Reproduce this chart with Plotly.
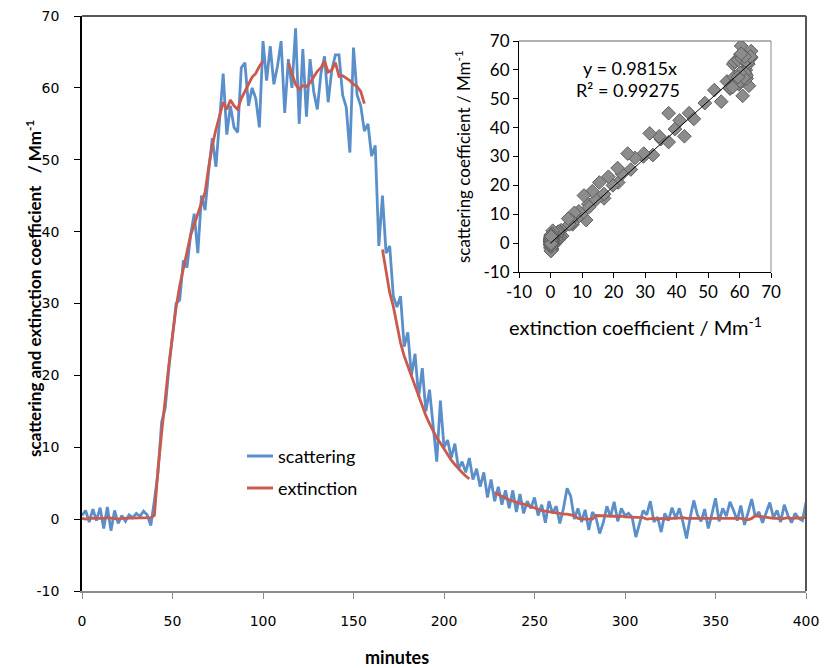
import plotly.graph_objects as go

# ---------------- data ----------------
minutes = list(range(0, 401, 2))

scattering = [
    # 0-38
    0.5, 1.2, -0.4, 1.4, -0.2, 1.6, -1.3, 1.7, -1.6, 1.2,
    -0.6, 0.5, -0.3, 0.6, 0.2, 0.8, 0.4, 1.1, 0.6, -0.9,
    # 40-78
    2.6, 6.5, 13.5, 15.5, 21, 25.5, 30, 30.5, 36, 35,
    39.5, 42.5, 37, 45, 43, 48.5, 53, 49, 56, 62,
    # 80-118
    53.5, 57.5, 54.5, 53.8, 62.8, 63.5, 57.5, 60, 58.5, 54.5,
    66.5, 61, 65.8, 60.5, 63, 66.5, 56.5, 64, 60, 68.3,
    # 120-158
    55, 65.4, 56, 64, 59.5, 57, 62, 64.4, 58, 62.5,
    64.6, 64.6, 59, 57.3, 51, 65.6, 59, 57.5, 54, 55,
    # 160-198
    50.5, 52, 38, 45, 37, 38, 31, 29.5, 31, 24,
    26, 20, 23, 17, 21, 15, 18, 12.5, 8, 16.5,
    # 200-238
    10, 11, 8.5, 10.5, 7, 8, 6.5, 8.5, 5.5, 7,
    4.5, 6.5, 3, 5.5, 2.5, 4.5, 2, 4, 1.5, 4,
    # 240-278
    1, 3.5, 0.8, 2.5, 1.5, 3, 0.5, 2, -0.5, 2.5,
    0.8, 1.8, -0.6, 1.5, 4.3, 3.2, 0, 1.5, -0.4, 1.3,
    # 280-318
    -1.5, 1.0, 0.2, -2.0, -0.5, 1.8, 0.3, 2.4, -0.3, 1.5,
    0.5, 0.8, 0.2, -2.5, -0.6, 1.2, 0.6, 2.5, -0.4, 0.3,
    # 320-358
    -1.8, 0.8, -0.2, 1.6, 0.1, 1.5, -0.4, -2.7, 0.2, 2.6,
    0.6, -0.3, 1.4, -1.3, 0.7, 2.9, -0.3, 1.5, 0.4, 2.4,
    # 360-398
    1.2, -0.2, 1.9, -0.8, 0.9, 2.8, 0.3, 1.0, -0.5, 0.8,
    2.3, 0.2, 1.2, -0.4, 2.0, 0.5, -0.5, 0.8, 0.1, -0.2,
    # 400
    2.3,
]

extinction = [
    # 0-38
    0.1, 0.0, 0.1, 0.1, 0.0, 0.1, 0.1, 0.2, 0.1, 0.1,
    0.0, 0.1, 0.1, 0.2, 0.1, 0.2, 0.2, 0.1, 0.1, 0.2,
    # 40-78
    0.5, 7, 12, 17, 21.5, 25.5, 29.5, 32.5, 35, 37.5,
    39.5, 41, 42.5, 44, 45.5, 49, 52, 54.2, 56, 58,
    # 80-118
    57, 58.3, 57.5, 57, 58.5, 59.5, 60.5, 61.5, 62, 63,
    63.7, None, None, None, None, None, None, 63.5, 62, 60.5,
    # 120-158
    59.8, 60.3, 60.2, 60.7, 61.5, 62.3, 62.8, 63.7, 62.2, 62.5,
    63.5, 61.6, 61.7, 61.4, 61, 60.5, 60.2, 59.5, 57.8, None,
    # 160-198
    None, None, None, 37.5, 34.5, 31.5, 29.6, 26.8, 24.5, 22.7,
    21.3, 19.8, 18.4, 17, 15.5, 14.4, 13.3, 12.3, 11.3, 10.6,
    # 200-238
    9.8, 9, 8.2, 7.6, 7, 6.5, 6, 5.6, None, None,
    None, None, None, None, 3.7, 3.4, 3.1, 2.9, 2.7, 2.5,
    # 240-278
    2.4, 2.2, 2.1, 1.9, 1.7, 1.5, 1.4, 1.2, 1.1, 1.0,
    0.9, 0.85, 0.8, 0.7, 0.7, 0.6, 0.5, 0.1, 0.0, 0.0,
    # 280-318
    0.0, 0.0, 0.5, 0.5, 0.5, 0.4, 0.4, 0.4, 0.3, 0.4,
    0.3, 0.3, 0.2, 0.3, 0.2, 0.2, 0.0, 0.1, 0.1, 0.0,
    # 320-358
    0.1, 0.0, 0.1, 0.1, 0.1, 0.2, 0.2, 0.1, 0.1, 0.2,
    0.2, 0.2, 0.2, 0.2, 0.2, 0.2, 0.2, 0.1, 0.1, 0.2,
    # 360-398
    0.1, 0.1, 0.1, 0.0, -0.1, 0.1, 0.5, 0.4, 0.3, 0.3,
    0.2, 0.1, 0.1, 0.0, 0.1, 0.2, 0.1, 0.1, 0.1, 0.2,
    # 400
    0.2,
]

fit_slope = 0.9815
fit_r2 = 0.99275

main_x_ticks = [0, 50, 100, 150, 200, 250, 300, 350, 400]
main_y_ticks = [-10, 0, 10, 20, 30, 40, 50, 60, 70]
inset_ticks = [-10, 0, 10, 20, 30, 40, 50, 60, 70]
tick_text = ["-10", "0", "10", "20", "30", "40", "50", "60", "70"]

# pairs for inset scatter
n = min(len(minutes), len(scattering), len(extinction))
pair_ext = [extinction[i] for i in range(n) if extinction[i] is not None]
pair_sca = [scattering[i] for i in range(n) if extinction[i] is not None]
fit_x = [0, max(pair_ext)]
fit_y = [fit_slope * v for v in fit_x]

BLUE = "#5b8fca"
RED = "#cb5a4e"

fig = go.Figure()
fig.add_trace(go.Scatter(x=minutes[:n], y=scattering[:n], mode="lines",
                         line=dict(color=BLUE, width=2.8), name="scattering",
                         showlegend=False))
fig.add_trace(go.Scatter(x=minutes[:n], y=extinction[:n], mode="lines",
                         line=dict(color=RED, width=2.8), name="extinction",
                         connectgaps=False, showlegend=False))
fig.add_trace(go.Scatter(x=pair_ext, y=pair_sca, mode="markers", xaxis="x2", yaxis="y2",
                         marker=dict(symbol="diamond", size=10.5, color="#8c8c8c",
                                     line=dict(color="#5e5e5e", width=1)),
                         showlegend=False))
fig.add_trace(go.Scatter(x=fit_x, y=fit_y, mode="lines", xaxis="x2", yaxis="y2",
                         line=dict(color="black", width=1), showlegend=False))

W, H = 824, 668
SL, SR, ST, SB = 82, 806, 16, 591          # plot area in screen pixels
L, T = SL, ST
R = W - SR
B = H - SB
pw, ph = W - L - R, H - T - B

def px(sx):
    return (sx - L) / pw

def py(sy):
    return (H - B - sy) / ph

tickfont_main = dict(family="DejaVu Sans", size=14, color="black")
tickfont_in = dict(family="Lato", size=17, color="black")

fig.update_layout(
    width=W, height=H,
    margin=dict(l=L, r=R, t=T, b=B, autoexpand=False),
    plot_bgcolor="white", paper_bgcolor="white",
    xaxis=dict(range=[0, 400], tickvals=main_x_ticks, showgrid=False, zeroline=False,
               showline=True, linecolor="#8c8c8c", linewidth=2, automargin=False,
               ticks="outside", ticklen=6, tickcolor="#8c8c8c", tickwidth=1,
               tickfont=tickfont_main, ticklabelstandoff=10, ticklabeloverflow="allow"),
    yaxis=dict(range=[-10, 70], tickvals=main_y_ticks, ticktext=tick_text, showgrid=False,
               zeroline=False, automargin=False,
               showline=True, linecolor="black", linewidth=1.5,
               ticks="outside", ticklen=6, tickcolor="black", tickwidth=1,
               tickfont=tickfont_main, ticklabelstandoff=12, ticklabeloverflow="allow"),
    xaxis2=dict(domain=[px(519), px(771)], anchor="y2", range=[-10, 70], tickvals=inset_ticks,
                ticktext=tick_text, automargin=False,
                showgrid=False, zeroline=False, showline=True, linecolor="black", linewidth=1,
                ticks="outside", ticklen=5, tickcolor="black", tickfont=tickfont_in),
    yaxis2=dict(domain=[py(272), py(41)], anchor="x2", range=[-10, 70], tickvals=inset_ticks,
                ticktext=tick_text, automargin=False,
                showgrid=False, zeroline=False, showline=True, linecolor="black", linewidth=1,
                ticks="outside", ticklen=5, tickcolor="black", tickfont=tickfont_in),
    showlegend=False,
)

shapes = [
    # main frame top and right
    dict(type="line", xref="paper", yref="paper", x0=0, x1=1, y0=1, y1=1,
         line=dict(color="#222222", width=1.5)),
    dict(type="line", xref="paper", yref="paper", x0=1, x1=1, y0=0, y1=1,
         line=dict(color="#555555", width=2)),
    # inset frame top and right
    dict(type="line", xref="paper", yref="paper", x0=px(519), x1=px(771), y0=py(41), y1=py(41),
         line=dict(color="#666666", width=1)),
    dict(type="line", xref="paper", yref="paper", x0=px(771), x1=px(771), y0=py(272), y1=py(41),
         line=dict(color="#888888", width=1)),
    # legend lines
    dict(type="line", xref="paper", yref="paper", x0=px(247), x1=px(273), y0=py(456), y1=py(456),
         line=dict(color=BLUE, width=3)),
    dict(type="line", xref="paper", yref="paper", x0=px(247), x1=px(273), y0=py(488), y1=py(488),
         line=dict(color=RED, width=3)),
]
fig.update_layout(shapes=shapes)

ann = [
    dict(text="scattering and extinction coefficient   / Mm<sup>-1</sup>", xref="paper", yref="paper",
         x=px(33), y=py(289), textangle=-90, showarrow=False, xanchor="center", yanchor="middle",
         font=dict(family="Lato", size=17, color="black", weight="bold")),
    dict(text="minutes", xref="paper", yref="paper", x=px(397), y=py(657), showarrow=False,
         xanchor="center", yanchor="middle",
         font=dict(family="Lato", size=18, color="black", weight="bold")),
    dict(text="scattering", xref="paper", yref="paper", x=px(276), y=py(456), showarrow=False,
         xanchor="left", yanchor="middle", font=dict(family="Lato", size=18, color="black")),
    dict(text="extinction", xref="paper", yref="paper", x=px(276), y=py(488), showarrow=False,
         xanchor="left", yanchor="middle", font=dict(family="Lato", size=18, color="black")),
    dict(text="extinction coefficient / Mm<sup>-1</sup>", xref="paper", yref="paper",
         x=px(635), y=py(326), showarrow=False, xanchor="center", yanchor="middle",
         font=dict(family="Lato", size=20, color="black")),
    dict(text="scattering coefficient / Mm<sup>-1</sup>", xref="paper", yref="paper",
         x=px(462), y=py(157), textangle=-90, showarrow=False, xanchor="center", yanchor="middle",
         font=dict(family="Lato", size=17, color="black")),
    dict(text=f"y = {fit_slope}x", xref="x2", yref="y2", x=25.2, y=60.6, showarrow=False,
         xanchor="center", yanchor="middle", font=dict(family="Lato", size=18, color="black")),
    dict(text=f"R² = {fit_r2}", xref="x2", yref="y2", x=24.6, y=53.0, showarrow=False,
         xanchor="center", yanchor="middle", font=dict(family="Lato", size=18, color="black")),
]
fig.update_layout(annotations=ann)

fig.write_html("out.html", config={"displayModeBar": False},
               post_script="document.body.style.margin='0';document.body.style.overflow='hidden';")
